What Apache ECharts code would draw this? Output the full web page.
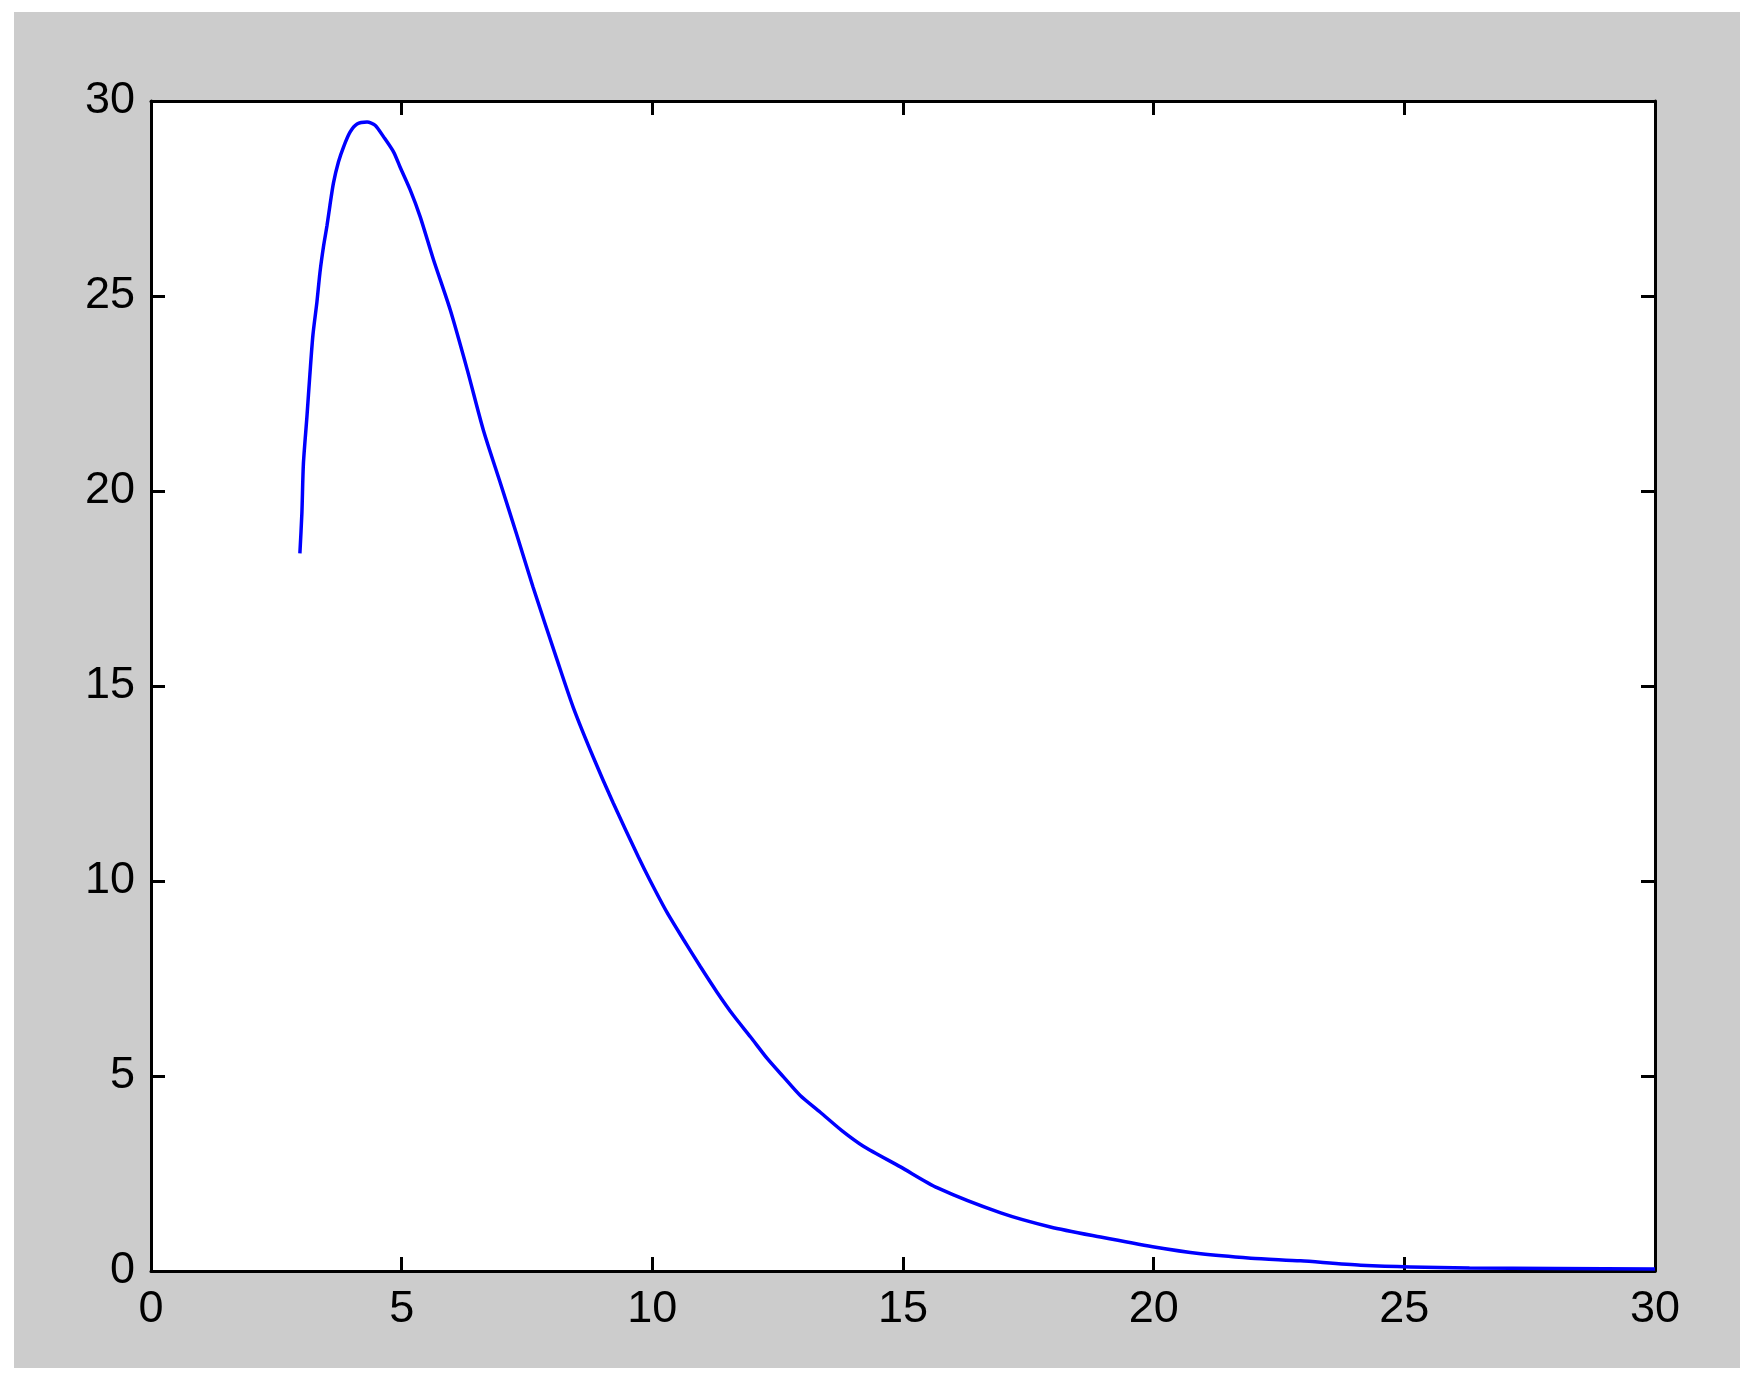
<html>
<head>
    <meta charset="utf-8" />
    <title>Curve</title>
    <script src="https://cdn.jsdelivr.net/npm/echarts@6/dist/echarts.min.js"></script>
    <style>
        body { margin: 0; background: #ffffff; }
        #chart { position: absolute; left: 14px; top: 12px; width: 1726px; height: 1356px; }
    </style>
</head>
<body>
    <div id="chart"></div>
    <script type="text/javascript">
        // values
        var xValues = [2.97, 3.01, 3.04, 3.11, 3.17, 3.23, 3.31, 3.37, 3.44, 3.51, 3.57, 3.64, 3.74, 3.84, 3.97,
            4.11, 4.31, 4.47, 4.64, 4.84, 4.97, 5.17, 5.37, 5.63, 5.97, 6.31, 6.63, 6.97, 7.31, 7.62,
            8.10, 8.42, 8.82, 9.22, 9.72, 9.96, 10.29, 10.62, 10.96, 11.29, 11.62, 11.96, 12.29, 12.62, 12.95,
            13.35, 13.78, 14.21, 14.95, 15.69, 16.95, 17.94, 18.94, 19.98, 20.94, 21.94, 22.93, 24.13, 26.3, 30];
        var yValues = [18.4, 19.44, 20.7, 21.9, 23.0, 24.0, 24.85, 25.6, 26.26, 26.8, 27.33, 27.9, 28.44, 28.82, 29.2,
            29.41, 29.46, 29.38, 29.08, 28.69, 28.3, 27.72, 27.03, 25.95, 24.64, 23.1, 21.56, 20.2, 18.82, 17.54,
            15.67, 14.46, 13.18, 12.0, 10.62, 10.0, 9.2, 8.5, 7.8, 7.15, 6.55, 6.0, 5.45, 4.97, 4.5,
            4.07, 3.6, 3.2, 2.67, 2.13, 1.49, 1.13, 0.87, 0.62, 0.44, 0.33, 0.26, 0.15, 0.08, 0.05];
        var xTicks = [0, 30, 5];   // min, max, step
        var yTicks = [0, 30, 5];

        var points = xValues.map(function (x, i) { return [x, yValues[i]]; });

        var chart = echarts.init(document.getElementById('chart'));

        function makeAxis(position, ticks, withLabels) {
            return {
                type: 'value', position: position, min: ticks[0], max: ticks[1], interval: ticks[2],
                axisLine: { show: true, onZero: false, lineStyle: { color: '#000', width: 3 } },
                axisTick: { show: true, inside: true, length: 14, lineStyle: { color: '#000', width: 3 } },
                splitLine: { show: false },
                axisLabel: withLabels
                    ? { show: true, margin: 16, color: '#000', fontSize: 45, fontFamily: 'Liberation Sans' }
                    : { show: false }
            };
        }

        var option = {
            backgroundColor: '#cccccc',
            animation: false,
            grid: {
                left: 137, top: 89, right: 85, bottom: 97,
                show: true, backgroundColor: '#ffffff', borderWidth: 0
            },
            xAxis: [
                makeAxis('bottom', xTicks, true),
                makeAxis('top', xTicks, false)
            ],
            yAxis: [
                makeAxis('left', yTicks, true),
                makeAxis('right', yTicks, false)
            ],
            series: [
                {
                    type: 'line',
                    data: points,
                    showSymbol: false,
                    smooth: 0.25,
                    lineStyle: { color: '#0000ff', width: 3.5 },
                    itemStyle: { color: '#0000ff' }
                }
            ]
        };
        option && chart.setOption(option);
    </script>
</body>
</html>
